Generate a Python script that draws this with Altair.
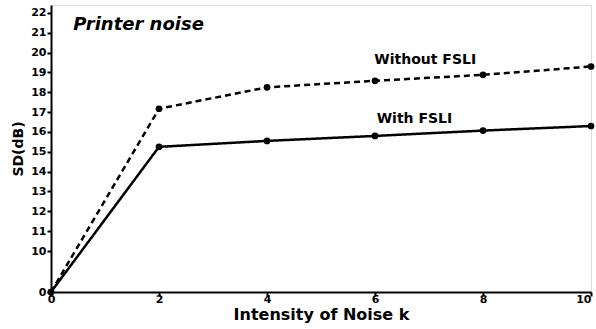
import altair as alt
import pandas as pd

k_values = [0, 2, 4, 6, 8, 10]
without_fsli = [0, 17.17, 18.25, 18.58, 18.88, 19.3]
with_fsli = [0, 15.25, 15.55, 15.8, 16.07, 16.3]
y_ticks = [0, 10, 11, 12, 13, 14, 15, 16, 17, 18, 19, 20, 21, 22]
x_ticks = [0, 2, 4, 6, 8, 10]

series_names = ["Without FSLI", "With FSLI"]
label_x = [6.93, 6.73]
label_y = [19.63, 16.65]
title_text = "Printer noise"

rows = []
for kv, a, b in zip(k_values, without_fsli, with_fsli):
    rows.append({"k": kv, "sd": a, "series": "Without FSLI"})
    rows.append({"k": kv, "sd": b, "series": "With FSLI"})
df = pd.DataFrame(rows)
labels_df = pd.DataFrame({"x": label_x, "y": label_y, "text": series_names})
title_df = pd.DataFrame({"x": [0.41], "y": [21.4], "text": [title_text]})

FONT = "DejaVu Sans"
W, H = 540, 287

xscale = alt.Scale(domain=[0, 10], nice=False, zero=False)
yscale = alt.Scale(domain=[0, 10, 22.4], range=[H, 246, 0], nice=False, zero=False)

x_enc = alt.X("k:Q", scale=xscale, axis=alt.Axis(
    values=x_ticks, tickCount=20, format="d", title="Intensity of Noise k", grid=False,
    domainColor="black", domainWidth=2, tickColor="black", tickWidth=2, tickSize=4,
    labelFont=FONT, labelFontSize=11, labelFontWeight="bold", labelColor="black",
    labelBaseline="middle", labelPadding=3, labelFlush=False, labelOverlap=False,
    labelAlign={"expr": "datum.value == 10 ? 'right' : 'center'"},
    titleFont=FONT, titleFontSize=16, titleFontWeight="bold", titleColor="black",
    titlePadding=2))
y_enc = alt.Y("sd:Q", scale=yscale, axis=alt.Axis(
    values=y_ticks, tickCount=40, format="d", title="SD(dB)", grid=False,
    domainColor="black", domainWidth=2, tickColor="black", tickWidth=2, tickSize=4,
    labelFont=FONT, labelFontSize=11, labelFontWeight="bold", labelColor="black",
    labelPadding=1, labelFlush=False, labelOverlap=False,
    titleFont=FONT, titleFontSize=14, titleFontWeight="bold", titleColor="black",
    titlePadding=5))

dash = alt.StrokeDash("series:N", scale=alt.Scale(domain=series_names, range=[[6, 4], [1, 0]]), legend=None)

lines = alt.Chart(df).mark_line(color="black", strokeWidth=2.5).encode(
    x=x_enc, y=y_enc, strokeDash=dash, detail="series:N")
points = alt.Chart(df).mark_point(filled=True, color="black", size=45, opacity=1).encode(
    x="k:Q", y="sd:Q")
labels = alt.Chart(labels_df).mark_text(font=FONT, fontSize=14, fontWeight="bold", color="black").encode(
    x="x:Q", y="y:Q", text="text:N")
title = alt.Chart(title_df).mark_text(font=FONT, fontSize=18, fontWeight="bold", fontStyle="italic",
                                      color="black", align="left").encode(
    x="x:Q", y="y:Q", text="text:N")

chart = alt.layer(lines, points, labels, title).properties(
    width=W, height=H,
    padding={"left": 51, "top": 5, "right": 5, "bottom": 37},
    autosize=alt.AutoSizeParams(type="none"),
).configure_view(stroke="black", strokeWidth=1.5).configure(background="white")

chart.save("out.html", embed_options={"renderer": "svg", "actions": False})
